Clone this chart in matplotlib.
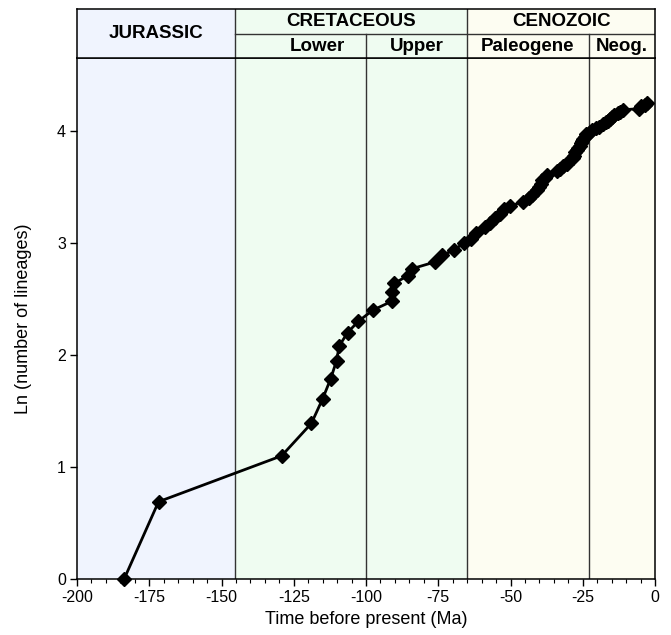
import matplotlib
matplotlib.use("Agg")
import matplotlib.pyplot as plt
from matplotlib.ticker import MultipleLocator

plt.rcParams['font.family'] = ['Liberation Sans', 'DejaVu Sans']
plt.rcParams['axes.unicode_minus'] = False

# lineage-through-time data (time in Ma before present, ln of lineage count)
time_ma = [-183.7, -171.8, -129.2, -118.9, -115.0, -112.2, -110.2, -109.3, -106.4, -102.7,
           -97.7, -91.1, -91.0, -90.2, -85.5, -84.2, -76.3, -73.6, -69.5, -66.1,
           -63.8, -62.0, -59.0, -57.0, -55.3, -53.5, -52.3, -50.3, -45.6, -43.5,
           -42.5, -41.0, -40.3, -39.6, -39.0, -38.2, -37.3, -34.0, -33.0, -31.8,
           -30.3, -29.3, -28.5, -28.0, -27.6, -27.0, -26.5, -26.1, -25.7, -25.2,
           -24.8, -24.3, -23.8, -22.5, -21.7, -20.3, -19.5, -18.0, -17.0, -16.3,
           -15.5, -14.8, -14.1, -12.8, -12.0, -11.2, -5.5, -4.8, -3.5, -2.8]
ln_lineages = [0.00, 0.69, 1.10, 1.39, 1.61, 1.79, 1.95, 2.08, 2.20, 2.30,
               2.40, 2.48, 2.56, 2.64, 2.71, 2.77, 2.83, 2.89, 2.94, 3.00,
               3.04, 3.09, 3.14, 3.18, 3.22, 3.26, 3.30, 3.33, 3.37, 3.40,
               3.43, 3.47, 3.50, 3.53, 3.56, 3.58, 3.61, 3.64, 3.66, 3.69,
               3.71, 3.74, 3.76, 3.78, 3.81, 3.83, 3.85, 3.87, 3.89, 3.91,
               3.93, 3.95, 3.97, 3.99, 4.01, 4.03, 4.04, 4.06, 4.08, 4.09,
               4.11, 4.13, 4.14, 4.16, 4.17, 4.19, 4.20, 4.22, 4.23, 4.25]

# geological time scale
eras = ['JURASSIC', 'CRETACEOUS', 'CENOZOIC']
era_start = [-200, -145.5, -65]
era_end = [-145.5, -65, 0]
era_colors = ['#f0f4fe', '#effcf1', '#fdfdf2']
subs = ['Lower', 'Upper', 'Paleogene', 'Neog.']
sub_start = [-145.5, -100, -65, -23]
sub_end = [-100, -65, -23, 0]
sub_text_x = [-117, -82.5, -44, -11.5]

fig = plt.figure(figsize=(6.71, 6.35), dpi=100)
ax = fig.add_axes([0.1148, 0.0882, 0.8614, 0.8200])
hax = fig.add_axes([0.1148, 0.9082, 0.8614, 0.0772])

line_c = '#333333'
for s, e, c in zip(era_start, era_end, era_colors):
    ax.axvspan(s, e, color=c, lw=0, zorder=0)
    hax.axvspan(s, e, color=c, lw=0, zorder=0)
for b in [-145.5, -100, -65, -23]:
    ax.axvline(b, color=line_c, lw=1, zorder=1)

ax.plot(time_ma, ln_lineages, color='black', lw=2, marker='D', markersize=7,
        zorder=3, clip_on=False)

ax.set_xlim(-200, 0)
ax.set_ylim(0, 4.65)
ax.xaxis.set_major_locator(MultipleLocator(25))
ax.xaxis.set_minor_locator(MultipleLocator(5))
ax.yaxis.set_major_locator(MultipleLocator(1))
ax.tick_params(axis='both', which='major', direction='out', length=5, width=1,
               labelsize=11.5, pad=3)
ax.tick_params(axis='x', which='minor', direction='out', length=3, width=0.8)
ax.set_xlabel('Time before present (Ma)', fontsize=13, labelpad=4)
ax.set_ylabel('Ln (number of lineages)', fontsize=13, labelpad=18)
for sp in ax.spines.values():
    sp.set_linewidth(1.1)

# header panel
hax.set_xlim(-200, 0)
hax.set_ylim(0, 1)
hax.set_xticks([])
hax.set_yticks([])
for sp in hax.spines.values():
    sp.set_linewidth(1.1)
for b in [-145.5, -65]:
    hax.axvline(b, color=line_c, lw=1)
for b in [-100, -23]:
    hax.plot([b, b], [0, 0.5], color=line_c, lw=1)
hax.plot([-145.5, 0], [0.5, 0.5], color=line_c, lw=1)

hfs = 13.5
hax.text(-172.75, 0.5, eras[0], ha='center', va='center', fontsize=hfs, fontweight='bold')
hax.text(-105.25, 0.75, eras[1], ha='center', va='center', fontsize=hfs, fontweight='bold')
hax.text(-32.5, 0.75, eras[2], ha='center', va='center', fontsize=hfs, fontweight='bold')
for name, x in zip(subs, sub_text_x):
    hax.text(x, 0.25, name, ha='center', va='center', fontsize=hfs, fontweight='bold')

fig.savefig('out.png', dpi=100)
